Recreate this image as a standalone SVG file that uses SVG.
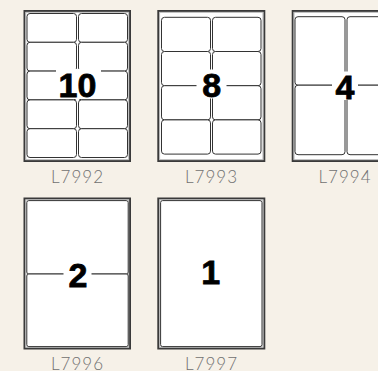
<svg xmlns="http://www.w3.org/2000/svg" width="378" height="371" viewBox="0 0 378 371">
<style>
.sheet{fill:#fff;stroke:#3a3a3a;stroke-width:2}
.inner{fill:none;stroke:#b5b5b5;stroke-width:1}
.lab{fill:#fff;stroke:#333;stroke-width:1}
.mask{fill:#fff}
.num{font-family:"Liberation Sans",Arial,sans-serif;font-weight:bold;font-size:34px;fill:#000;stroke:#000;stroke-width:0.8;text-anchor:middle}
.code{font-family:Lato,"Open Sans",sans-serif;font-weight:300;font-size:17px;fill:#707070;text-anchor:middle;letter-spacing:1px}
</style>
<rect width="378" height="371" fill="#f6f1e8"/>
<g id="L7992">
<rect class="sheet" x="24.5" y="11" width="105.5" height="150"/>
<rect class="inner" x="25.8" y="12.3" width="102.9" height="147.4"/>
<rect class="lab" x="27" y="13.5" width="49.5" height="28.8" rx="3"/>
<rect class="lab" x="78.5" y="13.5" width="49" height="28.8" rx="3"/>
<rect class="lab" x="27" y="42.3" width="49.5" height="28.8" rx="3"/>
<rect class="lab" x="78.5" y="42.3" width="49" height="28.8" rx="3"/>
<rect class="lab" x="27" y="71.1" width="49.5" height="28.8" rx="3"/>
<rect class="lab" x="78.5" y="71.1" width="49" height="28.8" rx="3"/>
<rect class="lab" x="27" y="99.9" width="49.5" height="28.8" rx="3"/>
<rect class="lab" x="78.5" y="99.9" width="49" height="28.8" rx="3"/>
<rect class="lab" x="27" y="128.7" width="49.5" height="28.8" rx="3"/>
<rect class="lab" x="78.5" y="128.7" width="49" height="28.8" rx="3"/>
<rect class="mask" x="56" y="69" width="45" height="30"/>
<text class="num" x="77.5" y="97.3">10</text>
<text class="code" x="77.5" y="183.3">L7992</text>
</g>
<g id="L7993">
<rect class="sheet" x="158.3" y="11" width="106" height="150"/>
<rect class="inner" x="159.6" y="12.3" width="103.4" height="147.4"/>
<rect class="lab" x="161.5" y="17.3" width="49" height="34.2" rx="3"/>
<rect class="lab" x="212.5" y="17.3" width="48.5" height="34.2" rx="3"/>
<rect class="lab" x="161.5" y="51.5" width="49" height="34.2" rx="3"/>
<rect class="lab" x="212.5" y="51.5" width="48.5" height="34.2" rx="3"/>
<rect class="lab" x="161.5" y="85.7" width="49" height="34.2" rx="3"/>
<rect class="lab" x="212.5" y="85.7" width="48.5" height="34.2" rx="3"/>
<rect class="lab" x="161.5" y="119.9" width="49" height="34.2" rx="3"/>
<rect class="lab" x="212.5" y="119.9" width="48.5" height="34.2" rx="3"/>
<rect class="mask" x="196.5" y="69.5" width="30" height="29"/>
<text class="num" x="211.7" y="96.7">8</text>
<text class="code" x="211.5" y="183.3">L7993</text>
</g>
<g id="L7994">
<rect class="sheet" x="292.7" y="11" width="106" height="150"/>
<rect class="inner" x="294" y="12.3" width="103.4" height="147.4"/>
<rect class="lab" x="295" y="16.7" width="50" height="68.5" rx="3"/>
<rect class="lab" x="347" y="16.7" width="50" height="68.5" rx="3"/>
<rect class="lab" x="295" y="85.2" width="50" height="69.5" rx="3"/>
<rect class="lab" x="347" y="85.2" width="50" height="69.5" rx="3"/>
<rect class="mask" x="332" y="71.5" width="26" height="28.5"/>
<text class="num" x="345" y="98.5">4</text>
<text class="code" x="345" y="183.3">L7994</text>
</g>
<g id="L7996">
<rect class="sheet" x="24.5" y="198.5" width="105.5" height="150"/>
<rect class="inner" x="25.8" y="199.8" width="102.9" height="147.4"/>
<rect class="lab" x="26.8" y="200.6" width="101.4" height="73.4" rx="2"/>
<rect class="lab" x="26.8" y="274" width="101.4" height="72.6" rx="2"/>
<rect class="mask" x="63.5" y="260" width="28" height="29"/>
<text class="num" x="78" y="286.7">2</text>
<text class="code" x="77.5" y="369.5">L7996</text>
</g>
<g id="L7997">
<rect class="sheet" x="158.3" y="198.5" width="106" height="150"/>
<rect class="inner" x="159.6" y="199.8" width="103.4" height="147.4"/>
<rect class="lab" x="160.6" y="200.6" width="101.4" height="146" rx="2"/>
<text class="num" x="210.7" y="283.5">1</text>
<text class="code" x="211.5" y="369.5">L7997</text>
</g>
<g id="connectors"/>
</svg>
